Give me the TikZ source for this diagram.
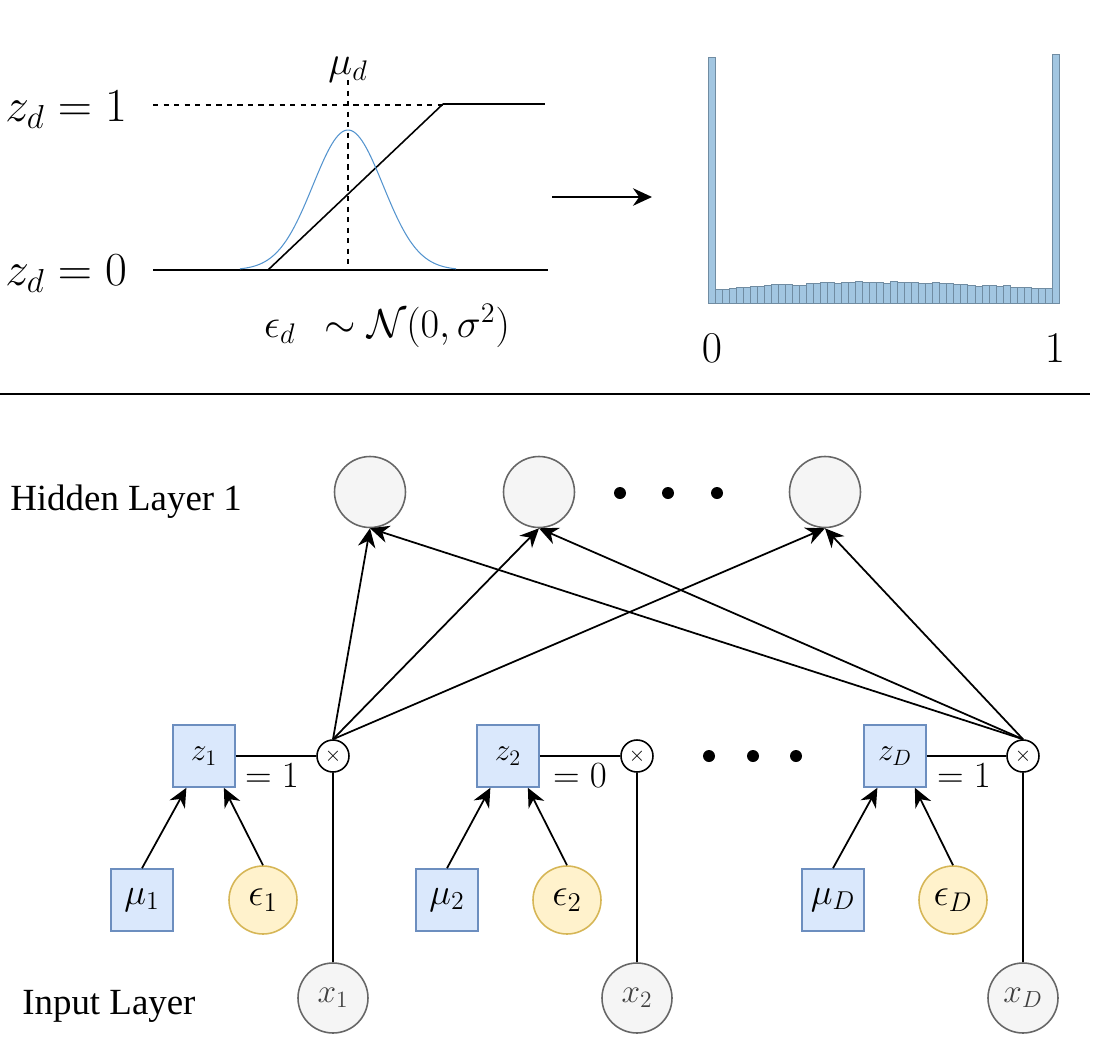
\RequirePackage{fix-cm}
\documentclass[tikz,border=0pt]{standalone}
\usepackage{fontspec}
\newfontfamily\layerfont{Liberation Serif}
\usetikzlibrary{arrows.meta}
\definecolor{zfill}{HTML}{DAE8FC}
\definecolor{zline}{HTML}{6C8EBF}
\definecolor{efill}{HTML}{FFF2CC}
\definecolor{eline}{HTML}{D6B656}
\definecolor{nfill}{HTML}{F5F5F5}
\definecolor{nline}{HTML}{666666}
\definecolor{histfill}{RGB}{162,198,225}
\definecolor{histline}{RGB}{112,140,162}
\definecolor{gaussblue}{RGB}{84,148,206}
\begin{document}
\begin{tikzpicture}[x=0.02cm,y=-0.02cm,
  zbox/.style={draw=zline,fill=zfill,line width=0.9pt,minimum size=1.24cm,inner sep=0pt,font=\fontsize{18}{20}\selectfont},
  mubox/.style={draw=zline,fill=zfill,line width=0.9pt,minimum size=1.24cm,inner sep=0pt,font=\fontsize{21}{24}\selectfont},
  epsnode/.style={circle,draw=eline,fill=efill,line width=0.9pt,minimum size=1.36cm,inner sep=0pt,font=\fontsize{22}{24}\selectfont},
  hidnode/.style={circle,draw=nline,fill=nfill,line width=0.9pt,minimum size=1.42cm,inner sep=0pt},
  innode/.style={circle,draw=nline,fill=nfill,line width=0.9pt,minimum size=1.4cm,inner sep=0pt,text=black!75,font=\fontsize{19}{22}\selectfont},
  mulnode/.style={circle,draw,fill=white,line width=0.9pt,minimum size=0.64cm,inner sep=0pt,font=\fontsize{12}{13}\selectfont},
  eqlbl/.style={font=\fontsize{21}{24}\selectfont},
  layerlbl/.style={anchor=base west,inner sep=0pt,font=\layerfont\fontsize{21}{25}\selectfont},
  conn/.style={line width=1pt},
  arr/.style={line width=1pt,-{Stealth[length=3.8mm,width=3.5mm]}},
  histbar/.style={draw=histline,fill=histfill,line width=0.3pt}]
\useasboundingbox (0,0) rectangle (1117,1042);
%% step function with noise
\draw[dashed,line width=0.8pt] (153,105) -- (443,105);
\draw[line width=0.9pt] (443,104) -- (545,104);
\draw[line width=0.9pt] (153,270) -- (548,270);
\draw[line width=0.9pt] (268,270) -- (443,104);
\draw[dashed,line width=0.8pt] (348,80) -- (348,270);
\draw[gaussblue,line width=0.6pt] plot[domain=240:456,samples=100] (\x,{270-140*exp(-0.5*pow((\x-348)/35,2))});
\node[anchor=base west,inner sep=0pt,font=\fontsize{27}{32}\selectfont] (zone) at (5,121) {$z_d = 1$};
\node[anchor=base west,inner sep=0pt,font=\fontsize{27}{32}\selectfont] (zzero) at (5,285) {$z_d = 0$};
\node[anchor=base,inner sep=0pt,font=\fontsize{23}{28}\selectfont] (mud) at (348,74) {$\mu_d$};
\node[font=\fontsize{23}{28}\selectfont] (epsd) at (387,326) {$\epsilon_d\;\,\sim\mathcal{N}(0,\sigma^2)$};
\coordinate (arrs) at (552,197);
\coordinate (arre) at (652,197);
\draw[arr] (arrs) -- (arre);
%% histogram
\draw[histbar] (708,303) rectangle (715.02,57);
\foreach \h [count=\i] in {14,14,15,16,16,17,17,18,19,19,19,18,18,20,20,21,21,20,21,21,
  22,21,21,21,20,22,21,21,21,20,20,21,20,20,19,19,18,17,18,18,17,18,16,16,16,15,15,15}
  \draw[histbar] ({708+\i*7.02},303) rectangle ++(7.02,-\h);
\draw[histbar] (1051.98,303) rectangle (1059,54);
\node[font=\fontsize{25}{30}\selectfont] (hzero) at (712,348) {$0$};
\node[font=\fontsize{25}{30}\selectfont] (hone) at (1055,348) {$1$};
\draw[line width=0.7pt] (0,394) -- (1090,394);
%% network
\node[layerlbl] (hidlbl) at (10,510) {Hidden Layer 1};
\node[layerlbl] (inlbl) at (22,1014) {Input Layer};
\node[hidnode] (h1) at (370,492) {};
\node[hidnode] (h2) at (539,492) {};
\node[hidnode] (h4) at (825,492) {};
\foreach \px in {620,668,717} \fill (\px,493) circle[radius=0.12cm];
\foreach \px in {709,753,796} \fill (\px,756) circle[radius=0.12cm];
\node[zbox] (z1) at (204,756) {$z_1$};
\node[zbox] (z2) at (508,756) {$z_2$};
\node[zbox] (zD) at (895,756) {$z_D$};
\node[mulnode] (m1) at (333,756) {$\times$};
\node[mulnode] (m2) at (637,756) {$\times$};
\node[mulnode] (mD) at (1023,756) {$\times$};
\node[eqlbl] (eq1) at (272,776) {$=1$};
\node[eqlbl] (eq2) at (580,776) {$=0$};
\node[eqlbl] (eqD) at (964,776) {$=1$};
\node[mubox] (mu1) at (142,900) {$\mu_1$};
\node[mubox] (mu2) at (447,900) {$\mu_2$};
\node[mubox] (muD) at (833,900) {$\mu_D$};
\node[epsnode] (e1) at (263,900) {$\epsilon_1$};
\node[epsnode] (e2) at (567,900) {$\epsilon_2$};
\node[epsnode] (eD) at (953,900) {$\epsilon_D$};
\node[innode] (x1) at (333,998) {$x_1$};
\node[innode] (x2) at (637,998) {$x_2$};
\node[innode] (xD) at (1023,998) {$x_D$};
\foreach \k in {1,2,D} {
  \draw[arr] (mu\k.north) -- (z\k.-119);
  \draw[arr] (e\k.north) -- (z\k.-58);
  \draw[conn] (z\k) -- (m\k);
  \draw[conn] (x\k) -- (m\k);
}
\foreach \t in {h1,h2,h4} {
  \draw[arr] (m1.north) -- (\t.south);
  \draw[arr] (mD.north) -- (\t.south);
}
\end{tikzpicture}
\end{document}
